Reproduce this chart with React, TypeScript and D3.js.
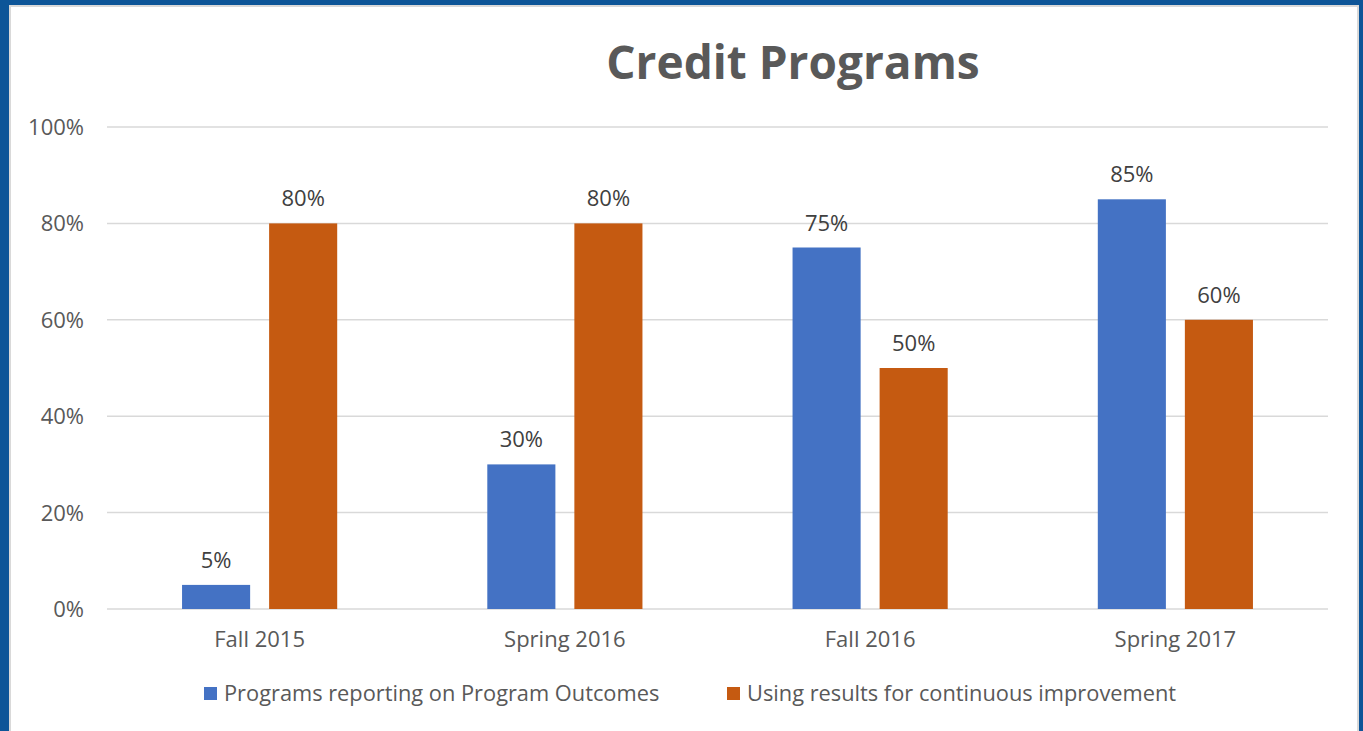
import React from "react";
import * as d3 from "d3";

const categories = ["Fall 2015", "Spring 2016", "Fall 2016", "Spring 2017"];
const seriesNames = ["Programs reporting on Program Outcomes", "Using results for continuous improvement"];
const reportingValues = [5, 30, 75, 85];
const usingValues = [80, 80, 50, 60];
const seriesColors = ["#4472C4", "#C55A11"];
const yTicks = [0, 20, 40, 60, 80, 100];

const W = 1363;
const H = 731;
const FONT = "'Open Sans', Lato, sans-serif";

export default function App() {
  const x0 = d3.scaleBand<string>().domain(categories).range([107, 1328]).padding(0);
  const x1 = d3
    .scaleBand<string>()
    .domain(seriesNames)
    .range([0, x0.bandwidth()])
    .paddingInner(0.218)
    .paddingOuter(0.862);
  const y = d3.scaleLinear().domain([0, 100]).range([609, 127]);
  const seriesValues = [reportingValues, usingValues];

  return (
    <div style={{ position: "fixed", left: 0, top: 0, width: W, height: H }}>
      <svg width={W} height={H} style={{ display: "block" }}>
        <rect x={0} y={0} width={W} height={H} fill="#0D5598" />
        <rect x={9} y={5} width={1350} height={H} fill="#D9D9D9" />
        <rect x={11} y={7} width={1346} height={H} fill="#FFFFFF" />
        <text x={793} y={79} textAnchor="middle" fontFamily={FONT} fontWeight={700} fontSize={46} fill="#595959">
          Credit Programs
        </text>
        {yTicks.map((t) => (
          <g key={t}>
            <line x1={107} x2={1328} y1={y(t)} y2={y(t)} stroke="#D9D9D9" strokeWidth={1.5} />
            <text x={84} y={y(t) + 8} textAnchor="end" fontFamily={FONT} fontSize={22} fill="#595959">
              {t}%
            </text>
          </g>
        ))}
        {categories.map((c, i) => (
          <g key={c} transform={`translate(${x0(c)},0)`}>
            {seriesNames.map((s, j) => {
              const v = seriesValues[j][i];
              const bx = x1(s)!;
              return (
                <g key={s}>
                  <rect x={bx} y={y(v)} width={x1.bandwidth()} height={y(0) - y(v)} fill={seriesColors[j]} />
                  <text
                    x={bx + x1.bandwidth() / 2}
                    y={y(v) - 17}
                    textAnchor="middle"
                    fontFamily={FONT}
                    fontSize={22}
                    fill="#404040"
                  >
                    {v}%
                  </text>
                </g>
              );
            })}
            <text x={x0.bandwidth() / 2} y={647} textAnchor="middle" fontFamily={FONT} fontSize={22} fill="#595959">
              {c}
            </text>
          </g>
        ))}
        {seriesNames.map((s, j) => {
          const lx = j === 0 ? 204 : 727;
          return (
            <g key={s}>
              <rect x={lx} y={687} width={13} height={13} fill={seriesColors[j]} />
              <text x={lx + 20} y={701} fontFamily={FONT} fontSize={21.8} fill="#595959">
                {s}
              </text>
            </g>
          );
        })}
      </svg>
    </div>
  );
}
